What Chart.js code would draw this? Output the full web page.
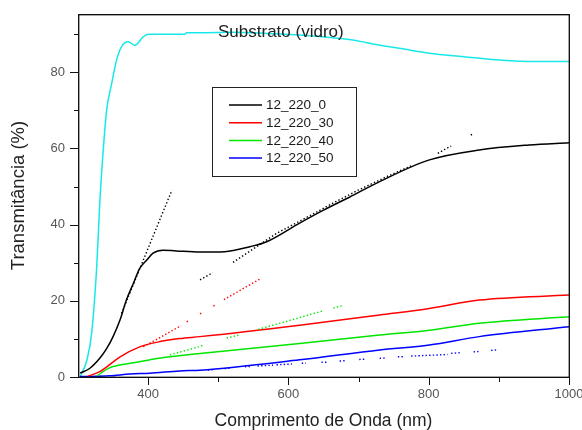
<!DOCTYPE html>
<html><head><meta charset="utf-8">
<script src="https://cdn.jsdelivr.net/npm/chart.js@4/dist/chart.umd.min.js"></script>
<style>html,body{margin:0;padding:0;background:#fff}#wrap{width:582px;height:430px;position:relative}</style>
</head><body><div id="wrap"><canvas id="c"></canvas></div>
<script>
// ---- tick values ----
const xTicksMajor=[400,600,800,1000];
const xTicksMinor=[500,700,900];
const yTicksMajor=[0,20,40,60,80];
const yTicksMinor=[10,30,50,70,90];
const legendLabels=['12_220_0','12_220_30','12_220_40','12_220_50'];
const substrateLabel='Substrato (vidro)';

// ---- series: substrate (glass) ----
const substrateX=[303,312.6,319.5,326.7,331.3,336,340.8,348,355,362,371.6,381,393,400,452,455,474,520,570,616,687,730,758,801,850,901,953,1000];
const substrateY=[0,4.4,11.5,29,46.5,59.6,70,77,83.2,86.7,88,87.1,89.3,90.0,90.0,90.4,90.4,90.5,90.2,89.8,88.6,87.1,86.3,85.0,84.1,83.2,82.8,82.8];

// ---- 12_220_0 ----
const s0X=[303,317,331,341,350,360,369,379,388,398,407,421,440,474,509,545,569,616,650,687,730,801,872,943,1000];
const s0Y=[1.0,2.3,4.9,7.5,10.6,15.0,20.2,24.6,28.5,30.7,32.5,33.3,33.1,32.8,32.9,34.2,35.5,40.4,43.8,47.2,51.3,57.0,59.6,60.9,61.5];
// ---- 12_220_30 ----
const s30X=[314,331,360,388,417,445,474,616,730,801,872,1000];
const s30Y=[0.2,1.4,5.3,7.9,9.3,10.1,10.6,13.6,16.3,18.0,20.2,21.5];
// ---- 12_220_40 ----
const s40X=[327,345,374,402,431,474,616,730,801,872,1000];
const s40Y=[0.3,2.4,3.6,4.5,5.3,6.2,8.8,11.0,12.3,14.1,15.8];
// ---- 12_220_50 ----
const s50X=[303,345,374,402,445,474,616,730,801,872,1000];
const s50Y=[0.1,0.3,0.8,1.0,1.6,1.8,4.5,7.1,8.4,10.6,13.2];

// ---- dotted (scattered) points ----
const dot0aX=[362,434];
const dot0aY=[16.7,49.1];
const dot0bX=[474,492,500,521,583,620,663,700,740,777,790,813,825,832,840,860,862];
const dot0bY=[25.5,27.4,null,30.1,37.7,41.3,45.6,49.1,52.6,55.6,null,58.7,60.0,60.6,null,63.5,63.7];
const dot30X=[393,447,450,455,458,470,474,476,480,493,497,500,508,561];
const dot30Y=[7.9,13.5,null,14.5,14.8,null,16.6,16.8,null,18.6,19.1,null,20.3,25.9];
const dot40X=[431,472,474,480,490,512,531,540,557,650,655,664,676];
const dot40Y=[5.8,7.9,8.1,8.4,null,10.2,11.1,null,12.5,17.4,null,18.1,18.7];
const dot50X=[485,492,500,509,519,530,538,548,552,556,578,580,583,605,612,619,625,635,647,656,665,673,683,690,701,711,720,730,740,748,756,765,770,775,827,830,832,847,855,864,871,880,889,898];
const dot50Y=[1.8,1.9,null,2.2,2.4,null,2.7,2.8,null,2.9,3.1,null,3.2,3.4,null,3.6,3.6,null,3.85,3.9,null,4.2,4.3,null,4.6,4.7,null,4.9,5.0,null,5.3,5.3,null,5.5,5.9,null,6.2,6.4,null,6.6,6.7,null,7.0,7.1];

const pts=(xs,ys)=>xs.map((x,i)=>({x:x,y:ys[i]}));

const colBlack='#000000', colRed='#ff0000', colGreen='#00e600', colBlue='#0000ff', colCyan='#19e8e8';

function curve(label,xs,ys,color){
  return {label:label,data:pts(xs,ys),borderColor:color,backgroundColor:color,borderWidth:1.5,pointRadius:0,cubicInterpolationMode:'monotone',fill:false};
}
function dots(xs,ys,color){
  return {label:'',data:pts(xs,ys),borderColor:color,borderWidth:1.4,borderDash:[1.4,2.2],pointRadius:0,spanGaps:false,fill:false};
}

const FONT='"Liberation Sans", Arial, sans-serif';

const decorPlugin={
  id:'decor',
  afterDraw(chart){
    const ctx=chart.ctx, a=chart.chartArea, x=chart.scales.x, y=chart.scales.y;
    ctx.save();
    ctx.setLineDash([]);ctx.lineDashOffset=0;ctx.globalAlpha=1;ctx.globalCompositeOperation='source-over';
    const L=Math.round(a.left), R=Math.round(a.right), T=Math.round(a.top), B=Math.round(a.bottom);
    // frame: solid core plus soft neighbour, like the reference
    ctx.fillStyle='rgba(0,0,0,0.35)';
    ctx.fillRect(L,T+1,R-L+1,1);
    ctx.fillRect(L+1,T,1,B-T+1);
    ctx.fillRect(R-1,T,1,B-T+1);
    ctx.fillRect(L,B-1,R-L+1,1);
    ctx.fillStyle='#111111';
    ctx.fillRect(L,T,R-L+1,1);
    ctx.fillRect(L,B,R-L+1,1);
    ctx.fillRect(L,T,1,B-T+1);
    ctx.fillRect(R,T,1,B-T+1);
    // ticks
    xTicksMajor.forEach(v=>{const p=Math.round(x.getPixelForValue(v));ctx.fillRect(p,B,1,8);});
    xTicksMinor.forEach(v=>{const p=Math.round(x.getPixelForValue(v));ctx.fillRect(p,B,1,5);});
    yTicksMajor.forEach(v=>{const p=Math.round(y.getPixelForValue(v));ctx.fillRect(L-8,p,8,1);});
    yTicksMinor.forEach(v=>{const p=Math.round(y.getPixelForValue(v));ctx.fillRect(L-4,p,4,1);});
    // substrate label
    ctx.fillStyle='#222';
    ctx.font='17px '+FONT;
    ctx.textBaseline='middle';ctx.textAlign='left';
    ctx.fillText(substrateLabel,218,32);
    // legend
    const bx=212.5,by=87.5,bw=144,bh=89;
    ctx.fillStyle='#fff';ctx.fillRect(bx,by,bw,bh);
    ctx.strokeStyle='#222';ctx.lineWidth=1;ctx.strokeRect(bx,by,bw,bh);
    const legendColors=[colBlack,colRed,colGreen,colBlue];
    ctx.font='13.5px '+FONT;
    legendLabels.forEach((t,i)=>{
      const ry=105+i*17.7;
      ctx.strokeStyle=legendColors[i];ctx.lineWidth=1.5;
      ctx.beginPath();ctx.moveTo(229,ry);ctx.lineTo(262,ry);ctx.stroke();
      ctx.fillStyle='#1a1a1a';ctx.fillText(t,266,ry+0.5);
    });
    ctx.restore();
  }
};

new Chart(document.getElementById('c'),{
  type:'line',
  data:{datasets:[
    dots(dot0aX,dot0aY,colBlack),
    dots(dot0bX,dot0bY,colBlack),
    dots(dot30X,dot30Y,colRed),
    dots(dot40X,dot40Y,colGreen),
    dots(dot50X,dot50Y,colBlue),
    curve(legendLabels[0],s0X,s0Y,colBlack),
    curve(legendLabels[1],s30X,s30Y,colRed),
    curve(legendLabels[2],s40X,s40Y,colGreen),
    curve(legendLabels[3],s50X,s50Y,colBlue),
    curve(substrateLabel,substrateX,substrateY,colCyan)
  ]},
  options:{
    responsive:true,maintainAspectRatio:false,animation:false,devicePixelRatio:1,
    layout:{padding:{top:14,right:13,bottom:0,left:0}},
    plugins:{legend:{display:false},tooltip:{enabled:false}},
    elements:{line:{tension:0}},
    scales:{
      x:{type:'linear',min:300,max:1000,
        afterBuildTicks:s=>{s.ticks=xTicksMajor.map(v=>({value:v}));},
        afterFit:s=>{s.height=53;s.paddingLeft=0;s.paddingRight=0;},
        grid:{display:false,drawTicks:true,tickLength:8},
        border:{display:true,color:'#000',width:1},
        ticks:{color:'#555',font:{family:FONT,size:13},padding:2,maxRotation:0,autoSkip:false,callback:v=>String(v)},
        title:{display:true,text:'Comprimento de Onda (nm)',color:'#222',font:{family:FONT,size:17.5,lineHeight:1},padding:{top:0,bottom:0}}
      },
      y:{type:'linear',min:0,max:95.3,
        afterBuildTicks:s=>{s.ticks=yTicksMajor.map(v=>({value:v}));},
        afterFit:s=>{s.width=78;},
        grid:{display:false,drawTicks:true,tickLength:8},
        border:{display:true,color:'#000',width:1},
        ticks:{color:'#555',font:{family:FONT,size:13},padding:5,callback:v=>String(v)},
        title:{display:true,text:'Transmitância (%)',color:'#222',font:{family:FONT,size:18.5,lineHeight:1},padding:{top:10,bottom:0}}
      }
    }
  },
  plugins:[decorPlugin]
});
</script></body></html>
